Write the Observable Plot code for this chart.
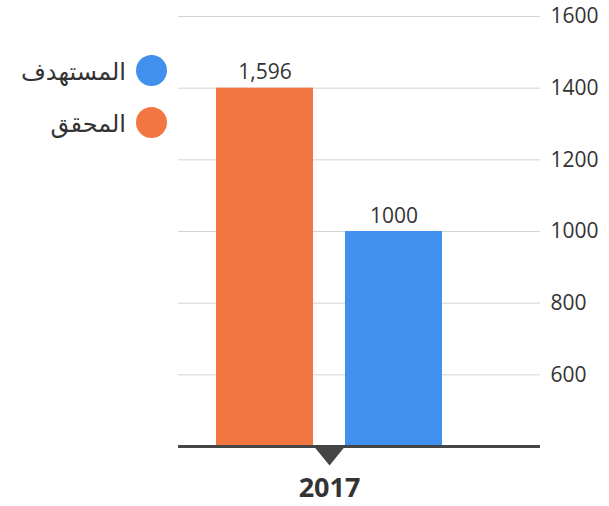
<!DOCTYPE html>
<html>
<head>
<meta charset="utf-8">
<script src="https://cdn.jsdelivr.net/npm/d3@7"></script>
<script src="https://cdn.jsdelivr.net/npm/@observablehq/plot@0.6"></script>
<style>
  html, body { margin: 0; padding: 0; background: #fff; }
  #wrap { position: relative; width: 609px; height: 506px; font-family: "Open Sans", "DejaVu Sans", sans-serif; }
  #legend { position: absolute; left: 0; top: 44px; width: 167px; }
  .item { display: flex; justify-content: flex-end; align-items: center; height: 52px; gap: 10px; font-size: 24px; color: #333; }
  .sw { width: 31px; height: 31px; border-radius: 50%; flex: none; }
</style>
</head>
<body>
<div id="wrap"><div id="legend"></div></div>
<script>
// Data
const series = ["المحقق", "المستهدف"];           // left to right
const barValues = [1400, 1000];                   // bar heights as drawn
const barLabels = ["1,596", "1000"];              // labels printed above the bars
const colors = ["#F27642", "#4190EE"];
const years = ["2017"];
const yTicks = [600, 800, 1000, 1200, 1400, 1600];
const yDomain = [400, 1600];
const legendOrder = ["المستهدف", "المحقق"];

const data = series.map((s, i) => ({series: s, value: barValues[i], label: barLabels[i]}));

const W = 609, H = 506;
const margins = {marginLeft: 178, marginRight: 69, marginTop: 16, marginBottom: 60};
const xOpts = {type: "band", domain: series, paddingInner: 0.248, paddingOuter: 0.527, align: 0.28,
  range: [margins.marginLeft, W - margins.marginRight]};
const xs = Plot.scale({x: xOpts});
const half = xs.step / 2;

const flatTri = {
  draw(context, size) {
    const r = Math.sqrt(size / Math.PI);
    context.moveTo(-r, 0);
    context.lineTo(r, 0);
    context.lineTo(0, r * 1.22);
    context.closePath();
  }
};

const font = '"Open Sans", "DejaVu Sans", sans-serif';

const plot = Plot.plot({
  width: W,
  height: H,
  ...margins,
  style: {fontFamily: font, background: "transparent", color: "#333"},
  x: {type: "band", domain: series, paddingInner: 0.248, paddingOuter: 0.527, align: 0.28, axis: null},
  y: {domain: yDomain, clamp: true, axis: null},
  color: {domain: series, range: colors},
  marks: [
    Plot.ruleY(yTicks, {stroke: "#d4d4d4", strokeWidth: 1}),
    Plot.barY(data, {x: "series", y: "value", fill: "series"}),
    Plot.ruleY([yDomain[0]], {stroke: "#454545", strokeWidth: 3}),
    Plot.axisY({anchor: "right", ticks: yTicks, tickSize: 0, tickPadding: 10, fontSize: 21, label: null, tickFormat: d => String(d), fill: "#333"}),
    Plot.text(data, {x: "series", y: "value", text: "label", dy: -9, lineAnchor: "bottom", fontSize: 21, fill: "#333"}),
    Plot.dot(years, {x: () => series[0], dx: half, frameAnchor: "bottom", symbol: flatTri, r: 15.5, fill: "#454545", stroke: "none"}),
    Plot.text(years, {x: () => series[0], dx: half, frameAnchor: "bottom", dy: 42, lineAnchor: "middle", text: d => d, fontSize: 27, fontWeight: "bold", fill: "#333"})
  ]
});

document.getElementById("wrap").prepend(plot);

const legend = document.getElementById("legend");
legendOrder.forEach(name => {
  const i = series.indexOf(name);
  const item = document.createElement("div");
  item.className = "item";
  const t = document.createElement("span");
  t.textContent = name;
  const sw = document.createElement("span");
  sw.className = "sw";
  sw.style.background = colors[i];
  item.append(t, sw);
  legend.append(item);
});
</script>
</body>
</html>
